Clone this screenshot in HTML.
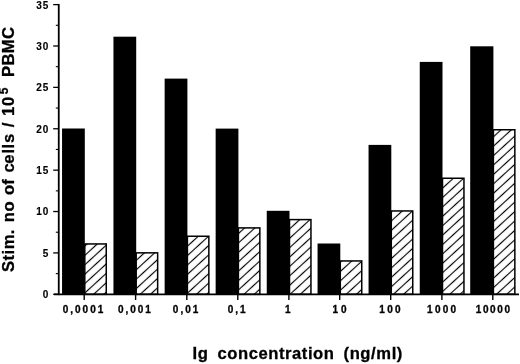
<!DOCTYPE html>
<html><head><meta charset="utf-8"><title>chart</title>
<style>
html,body{margin:0;padding:0;background:#fff;}
body{width:520px;height:364px;overflow:hidden;}
svg{display:block;}
text{font-family:"Liberation Sans",sans-serif;font-weight:bold;fill:#000;stroke:#000;stroke-width:0.3px;}
.t{font-size:10px;letter-spacing:0.8px;stroke-width:0.15px;}
.xl{font-size:10px;letter-spacing:2px;}
.ti{font-size:16.6px;letter-spacing:0.6px;}
</style></head><body>
<svg width="520" height="364" viewBox="0 0 520 364">
<defs>

</defs>
<rect width="520" height="364" fill="#fff"/>

<pattern id="h0" patternUnits="userSpaceOnUse" width="12" height="6.930" patternTransform="translate(84.80,255.40) rotate(-42.5) translate(0,-3.465)"><rect width="12" height="6.930" fill="#fff"/><line x1="-1" y1="3.465" x2="13" y2="3.465" stroke="#000" stroke-width="1.15"/></pattern>
<rect x="62.05" y="128.50" width="22.75" height="165.80" fill="#000"/>
<rect x="84.80" y="243.95" width="21.45" height="50.35" fill="url(#h0)" stroke="#000" stroke-width="1.5"/>
<pattern id="h1" patternUnits="userSpaceOnUse" width="12" height="6.930" patternTransform="translate(136.20,260.40) rotate(-42.5) translate(0,-3.465)"><rect width="12" height="6.930" fill="#fff"/><line x1="-1" y1="3.465" x2="13" y2="3.465" stroke="#000" stroke-width="1.15"/></pattern>
<rect x="113.45" y="36.70" width="22.75" height="257.60" fill="#000"/>
<rect x="136.20" y="252.85" width="21.45" height="41.45" fill="url(#h1)" stroke="#000" stroke-width="1.5"/>
<pattern id="h2" patternUnits="userSpaceOnUse" width="12" height="6.930" patternTransform="translate(187.40,246.20) rotate(-42.5) translate(0,-3.465)"><rect width="12" height="6.930" fill="#fff"/><line x1="-1" y1="3.465" x2="13" y2="3.465" stroke="#000" stroke-width="1.15"/></pattern>
<rect x="164.65" y="78.60" width="22.75" height="215.70" fill="#000"/>
<rect x="187.40" y="236.25" width="21.45" height="58.05" fill="url(#h2)" stroke="#000" stroke-width="1.5"/>
<pattern id="h3" patternUnits="userSpaceOnUse" width="12" height="6.930" patternTransform="translate(238.40,233.60) rotate(-42.5) translate(0,-3.465)"><rect width="12" height="6.930" fill="#fff"/><line x1="-1" y1="3.465" x2="13" y2="3.465" stroke="#000" stroke-width="1.15"/></pattern>
<rect x="215.65" y="128.60" width="22.75" height="165.70" fill="#000"/>
<rect x="238.40" y="227.90" width="21.45" height="66.40" fill="url(#h3)" stroke="#000" stroke-width="1.5"/>
<pattern id="h4" patternUnits="userSpaceOnUse" width="12" height="6.930" patternTransform="translate(289.50,229.00) rotate(-42.5) translate(0,-3.465)"><rect width="12" height="6.930" fill="#fff"/><line x1="-1" y1="3.465" x2="13" y2="3.465" stroke="#000" stroke-width="1.15"/></pattern>
<rect x="266.75" y="210.80" width="22.75" height="83.50" fill="#000"/>
<rect x="289.50" y="219.60" width="21.45" height="74.70" fill="url(#h4)" stroke="#000" stroke-width="1.5"/>
<pattern id="h5" patternUnits="userSpaceOnUse" width="12" height="6.930" patternTransform="translate(340.30,271.50) rotate(-42.5) translate(0,-3.465)"><rect width="12" height="6.930" fill="#fff"/><line x1="-1" y1="3.465" x2="13" y2="3.465" stroke="#000" stroke-width="1.15"/></pattern>
<rect x="317.55" y="243.50" width="22.75" height="50.80" fill="#000"/>
<rect x="340.30" y="260.95" width="21.45" height="33.35" fill="url(#h5)" stroke="#000" stroke-width="1.5"/>
<pattern id="h6" patternUnits="userSpaceOnUse" width="12" height="6.930" patternTransform="translate(391.30,221.00) rotate(-42.5) translate(0,-3.465)"><rect width="12" height="6.930" fill="#fff"/><line x1="-1" y1="3.465" x2="13" y2="3.465" stroke="#000" stroke-width="1.15"/></pattern>
<rect x="368.55" y="144.90" width="22.75" height="149.40" fill="#000"/>
<rect x="391.30" y="210.95" width="21.45" height="83.35" fill="url(#h6)" stroke="#000" stroke-width="1.5"/>
<pattern id="h7" patternUnits="userSpaceOnUse" width="12" height="6.930" patternTransform="translate(442.50,188.20) rotate(-42.5) translate(0,-3.465)"><rect width="12" height="6.930" fill="#fff"/><line x1="-1" y1="3.465" x2="13" y2="3.465" stroke="#000" stroke-width="1.15"/></pattern>
<rect x="419.75" y="61.90" width="22.75" height="232.40" fill="#000"/>
<rect x="442.50" y="178.25" width="21.45" height="116.05" fill="url(#h7)" stroke="#000" stroke-width="1.5"/>
<pattern id="h8" patternUnits="userSpaceOnUse" width="12" height="6.953" patternTransform="translate(493.40,136.80) rotate(-42.5) translate(0,-3.476)"><rect width="12" height="6.953" fill="#fff"/><line x1="-1" y1="3.476" x2="13" y2="3.476" stroke="#000" stroke-width="1.15"/></pattern>
<rect x="470.20" y="46.30" width="23.20" height="248.00" fill="#000"/>
<rect x="493.40" y="129.75" width="21.45" height="164.55" fill="url(#h8)" stroke="#000" stroke-width="1.5"/>
<rect x="57.85" y="4.01" width="1.8" height="291.09" fill="#000"/>
<line x1="54.0" y1="294.3" x2="519" y2="294.3" stroke="#000" stroke-width="1.8"/>
<line x1="53.2" y1="294.30" x2="59.0" y2="294.30" stroke="#000" stroke-width="1.3"/>
<text class="t" x="49.1" y="298.20" text-anchor="end">0</text>
<line x1="55.8" y1="273.61" x2="59.0" y2="273.61" stroke="#000" stroke-width="1.1"/>
<line x1="53.2" y1="252.92" x2="59.0" y2="252.92" stroke="#000" stroke-width="1.3"/>
<text class="t" x="49.1" y="256.81" text-anchor="end">5</text>
<line x1="55.8" y1="232.22" x2="59.0" y2="232.22" stroke="#000" stroke-width="1.1"/>
<line x1="53.2" y1="211.53" x2="59.0" y2="211.53" stroke="#000" stroke-width="1.3"/>
<text class="t" x="49.1" y="215.43" text-anchor="end">10</text>
<line x1="55.8" y1="190.84" x2="59.0" y2="190.84" stroke="#000" stroke-width="1.1"/>
<line x1="53.2" y1="170.15" x2="59.0" y2="170.15" stroke="#000" stroke-width="1.3"/>
<text class="t" x="49.1" y="174.05" text-anchor="end">15</text>
<line x1="55.8" y1="149.45" x2="59.0" y2="149.45" stroke="#000" stroke-width="1.1"/>
<line x1="53.2" y1="128.76" x2="59.0" y2="128.76" stroke="#000" stroke-width="1.3"/>
<text class="t" x="49.1" y="132.66" text-anchor="end">20</text>
<line x1="55.8" y1="108.07" x2="59.0" y2="108.07" stroke="#000" stroke-width="1.1"/>
<line x1="53.2" y1="87.38" x2="59.0" y2="87.38" stroke="#000" stroke-width="1.3"/>
<text class="t" x="49.1" y="91.28" text-anchor="end">25</text>
<line x1="55.8" y1="66.68" x2="59.0" y2="66.68" stroke="#000" stroke-width="1.1"/>
<line x1="53.2" y1="45.99" x2="59.0" y2="45.99" stroke="#000" stroke-width="1.3"/>
<text class="t" x="49.1" y="49.89" text-anchor="end">30</text>
<line x1="55.8" y1="25.30" x2="59.0" y2="25.30" stroke="#000" stroke-width="1.1"/>
<line x1="53.2" y1="4.61" x2="59.0" y2="4.61" stroke="#000" stroke-width="1.3"/>
<text class="t" x="49.1" y="8.51" text-anchor="end">35</text>
<line x1="84.20" y1="294.3" x2="84.20" y2="300.0" stroke="#000" stroke-width="1.4"/>
<text class="xl" x="62.71" y="313.2" style="letter-spacing:2.0px">0,0001</text>
<line x1="135.60" y1="294.3" x2="135.60" y2="300.0" stroke="#000" stroke-width="1.4"/>
<text class="xl" x="117.89" y="313.2" style="letter-spacing:2.0px">0,001</text>
<line x1="186.80" y1="294.3" x2="186.80" y2="300.0" stroke="#000" stroke-width="1.4"/>
<text class="xl" x="172.87" y="313.2" style="letter-spacing:2.0px">0,01</text>
<line x1="237.80" y1="294.3" x2="237.80" y2="300.0" stroke="#000" stroke-width="1.4"/>
<text class="xl" x="227.65" y="313.2" style="letter-spacing:2.0px">0,1</text>
<line x1="288.90" y1="294.3" x2="288.90" y2="300.0" stroke="#000" stroke-width="1.4"/>
<text class="xl" x="284.92" y="313.2" style="letter-spacing:2.0px">1</text>
<line x1="339.70" y1="294.3" x2="339.70" y2="300.0" stroke="#000" stroke-width="1.4"/>
<text class="xl" x="332.54" y="313.2" style="letter-spacing:2.9px">10</text>
<line x1="390.70" y1="294.3" x2="390.70" y2="300.0" stroke="#000" stroke-width="1.4"/>
<text class="xl" x="379.36" y="313.2" style="letter-spacing:2.3px">100</text>
<line x1="441.90" y1="294.3" x2="441.90" y2="300.0" stroke="#000" stroke-width="1.4"/>
<text class="xl" x="427.08" y="313.2" style="letter-spacing:2.25px">1000</text>
<line x1="492.80" y1="294.3" x2="492.80" y2="300.0" stroke="#000" stroke-width="1.4"/>
<text class="xl" x="475.70" y="313.2" style="letter-spacing:1.63px">10000</text>
<text class="ti" x="192.5" y="359">Ig</text><text class="ti" x="217.6" y="359" style="letter-spacing:0.55px">concentration</text><text class="ti" x="343.5" y="359">(ng/ml)</text>
<text class="ti" style="letter-spacing:0.45px" transform="translate(13.85,271.9) rotate(-90)">Stim.</text>
<text class="ti" style="letter-spacing:0.6px" transform="translate(13.85,222.3) rotate(-90)">no</text>
<text class="ti" style="letter-spacing:0.1px" transform="translate(13.85,195.0) rotate(-90)">of</text>
<text class="ti" style="letter-spacing:0px" transform="translate(13.85,127.3) rotate(-90)">/</text>
<text class="ti" style="letter-spacing:0.6px" transform="translate(13.85,115.9) rotate(-90)">10</text>
<text class="ti" style="letter-spacing:0.33px" transform="translate(13.85,76.9) rotate(-90)">PBMC</text>
<text class="ti" style="letter-spacing:0" transform="translate(13.85,172.6) rotate(-90)" x="0.0 8.8 19.0 24.2 29.5">cells</text>
<text transform="translate(8.1,94.3) rotate(-90)" style="font-size:12px">5</text>
</svg></body></html>
